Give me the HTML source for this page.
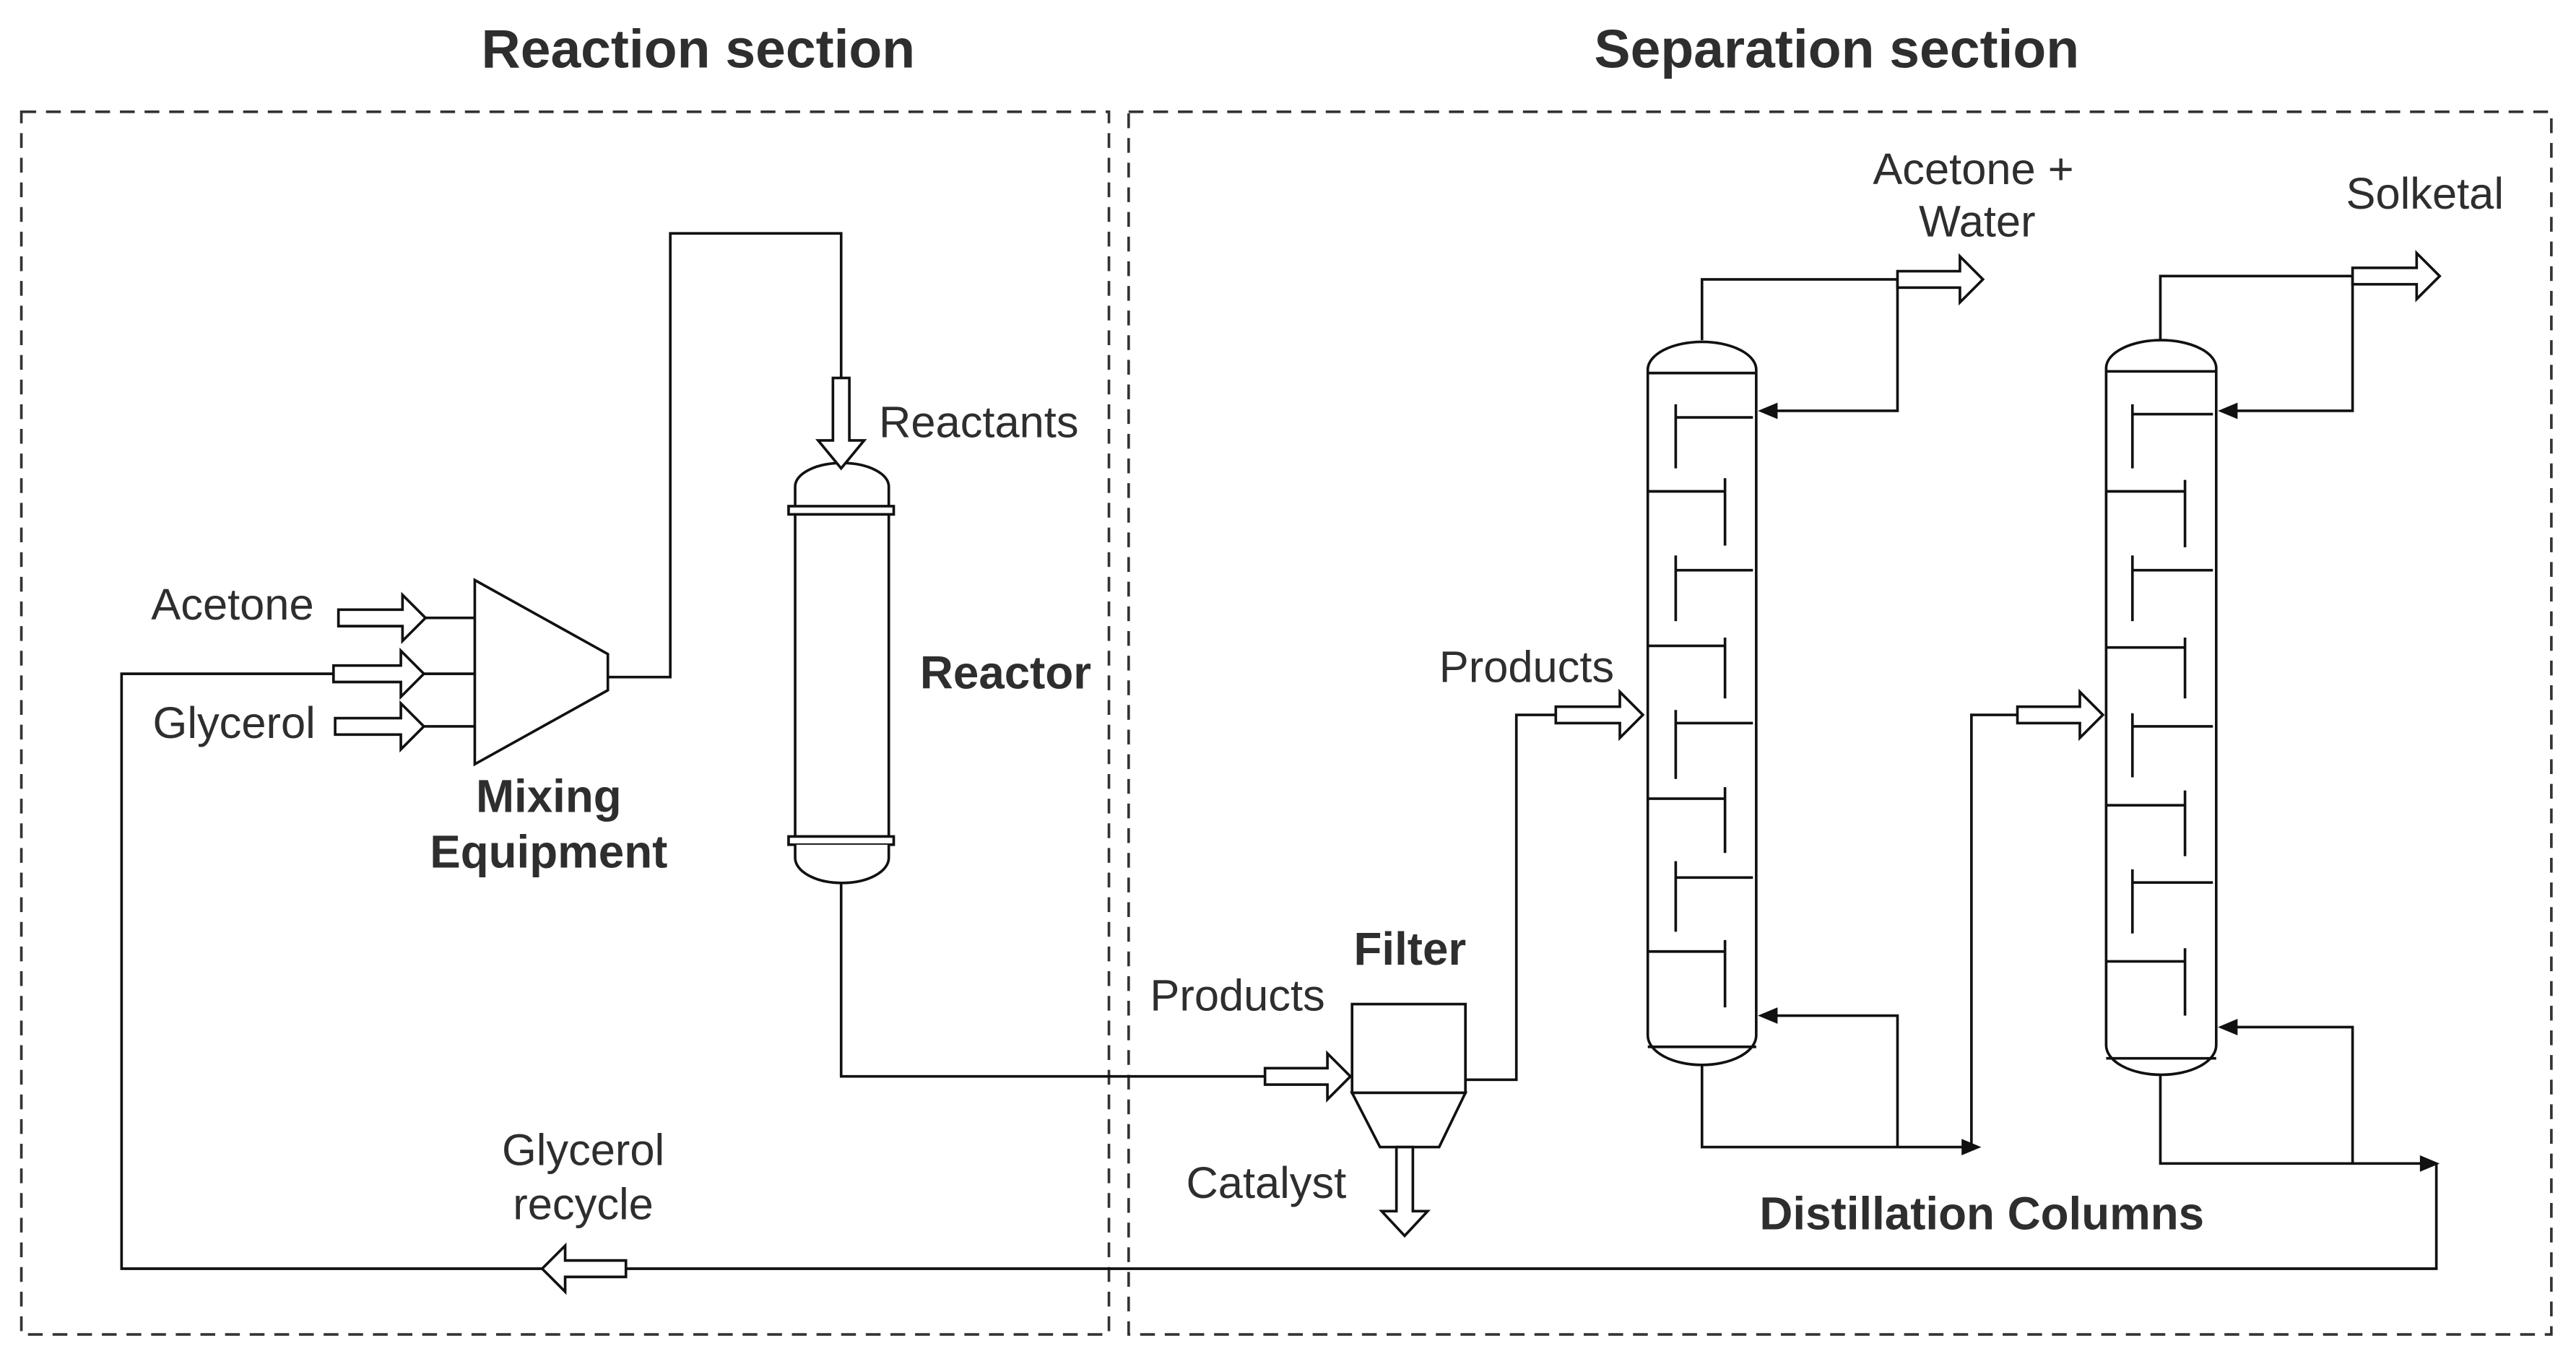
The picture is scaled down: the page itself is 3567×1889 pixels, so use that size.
<!DOCTYPE html>
<html><head><meta charset="utf-8"><style>
html,body{margin:0;padding:0;background:#fff;}
svg{display:block;}
text{font-family:"Liberation Sans",Arial,sans-serif;fill:#2e2e2e;}
</style></head><body>
<svg width="3567" height="1889" viewBox="0 0 1568 830" preserveAspectRatio="none" xmlns="http://www.w3.org/2000/svg">
<rect width="1568" height="830" fill="#fff"/>
<g fill="none" stroke="#333" stroke-width="1.6" stroke-dasharray="9,6">
<rect x="13" y="68" width="662" height="744"/>
<rect x="687" y="68" width="866" height="744"/>
</g>
<text x="425" y="41" font-size="33" font-weight="bold" text-anchor="middle">Reaction section</text>
<text x="1118" y="41" font-size="33" font-weight="bold" text-anchor="middle">Separation section</text>

<g fill="none" stroke="#111" stroke-width="1.6">
<polygon points="289,353 370,398 370,420 289,465" fill="#fff"/>
<polyline points="259,376 289,376"/>
<polyline points="258,410 289,410"/>
<polyline points="258,442 289,442"/>
<polyline points="370,412 408,412 408,142 512,142 512,230"/>
<path d="M484,310 V296 A28,14 0 0 1 541,296 V310" fill="#fff"/>
<rect x="480" y="308" width="64" height="5" fill="#fff"/>
<rect x="484" y="313" width="57" height="196" fill="#fff"/>
<rect x="480" y="509" width="64" height="5" fill="#fff"/>
<path d="M484,514 V522 A28,15 0 0 0 541,522 V514" fill="#fff"/>
<polyline points="512,537 512,655 770,655"/>
<rect x="823" y="611" width="69" height="54" fill="#fff"/>
<polygon points="823,665 892,665 876,698 840,698" fill="#fff"/>
<polyline points="892,657 923,657 923,435 947,435"/>
<path d="M1003,630 V225 A33,17 0 0 1 1069,225 V630 A33,18 0 0 1 1003,630 Z" fill="#fff"/>
<line x1="1003" y1="227" x2="1069" y2="227"/>
<line x1="1003" y1="637" x2="1069" y2="637"/>
<path d="M1020,254 H1067 M1020,246 V285 M1003,299 H1050 M1050,291 V332 M1020,347 H1067 M1020,338 V378 M1003,393 H1050 M1050,388 V425 M1020,440 H1067 M1020,432 V474 M1003,486 H1050 M1050,479 V519 M1020,534 H1067 M1020,524 V567 M1003,579 H1050 M1050,572 V613"/>
<polyline points="1036,207 1036,170 1155,170"/>
<polyline points="1155,170 1155,250 1080,250"/>
<polyline points="1036,648 1036,698 1195,698"/>
<polyline points="1155,698 1155,618 1080,618"/>
<polyline points="1200,698 1200,435 1228,435"/>
<path d="M1282,636 V224 A33.5,17 0 0 1 1349,224 V636 A33.5,18 0 0 1 1282,636 Z" fill="#fff"/>
<line x1="1282" y1="226" x2="1349" y2="226"/>
<line x1="1282" y1="644" x2="1349" y2="644"/>
<path d="M1298,252 H1347 M1298,246 V285 M1282,299 H1330 M1330,292 V333 M1298,347 H1347 M1298,338 V378 M1282,394 H1330 M1330,388 V425 M1298,442 H1347 M1298,434 V473 M1282,490 H1330 M1330,481 V521 M1298,537 H1347 M1298,529 V568 M1282,585 H1330 M1330,577 V618"/>
<polyline points="1315,207 1315,168 1432,168"/>
<polyline points="1432,168 1432,250 1360,250"/>
<polyline points="1315,654 1315,708 1475,708"/>
<polyline points="1432,708 1432,625 1360,625"/>
<polyline points="1483,708 1483,772 381,772"/>
<polyline points="330,772 74,772 74,410 203,410"/>
</g>
<g fill="#111">
<polygon points="1070,250 1082,245 1082,255"/>
<polygon points="1070,618 1082,613 1082,623"/>
<polygon points="1350,250 1362,245 1362,255"/>
<polygon points="1350,625 1362,620 1362,630"/>
<polygon points="1206,698 1194,693 1194,703"/>
<polygon points="1485,708 1473,703 1473,713"/>
</g>
<g fill="#fff" stroke="#111" stroke-width="1.6">
<path d="M206,371 H245 V362 L259,376 L245,390 V381 H206 Z"/>
<path d="M203,405 H244 V396 L258,410 L244,424 V415 H203 Z"/>
<path d="M204,437 H244 V428 L258,442 L244,456 V447 H204 Z"/>
<path d="M507,230 V268 H498 L512,285 L526,268 H517 V230 Z"/>
<path d="M770,650 H808 V641 L822,655 L808,669 V660 H770 Z"/>
<path d="M850,698 V737 H841 L855,752 L869,737 H860 V698 Z"/>
<path d="M947,430 H986 V421 L1000,435 L986,449 V440 H947 Z"/>
<path d="M1155,165 H1193 V156 L1207,170 L1193,184 V175 H1155 Z"/>
<path d="M1228,430 H1266 V421 L1280,435 L1266,449 V440 H1228 Z"/>
<path d="M1432,163 H1471 V154 L1485,168 L1471,182 V173 H1432 Z"/>
<path d="M381,767 H344 V758 L330,772 L344,786 V777 H381 Z"/>
</g>
<g font-size="27">
<text x="92" y="377">Acetone</text>
<text x="93" y="449">Glycerol</text>
<text x="535" y="266">Reactants</text>
<text x="876" y="415">Products</text>
<text x="1140" y="112">Acetone +</text>
<text x="1168" y="144">Water</text>
<text x="1428" y="127">Solketal</text>
<text x="700" y="615">Products</text>
<text x="722" y="729">Catalyst</text>
<text x="355" y="709" text-anchor="middle">Glycerol</text>
<text x="355" y="742" text-anchor="middle">recycle</text>
</g>
<g font-size="28" font-weight="bold">
<text x="334" y="494" text-anchor="middle">Mixing</text>
<text x="334" y="528" text-anchor="middle">Equipment</text>
<text x="560" y="419">Reactor</text>
<text x="824" y="587">Filter</text>
<text x="1071" y="748">Distillation Columns</text>
</g>
</svg>
</body></html>
